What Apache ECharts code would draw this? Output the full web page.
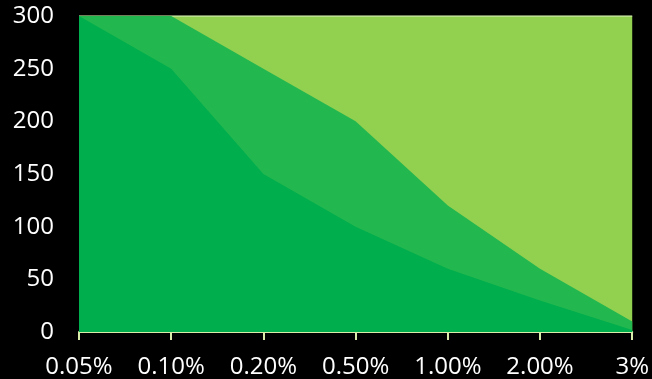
<!DOCTYPE html>
<html>
<head>
<meta charset="utf-8">
<script src="https://cdn.jsdelivr.net/npm/echarts@6/dist/echarts.min.js"></script>
<style>
html,body{margin:0;padding:0;background:#000;}
#c{width:652px;height:379px;}
</style>
</head>
<body>
<div id="c"></div>
<script>
const categories = ['0.05%', '0.10%', '0.20%', '0.50%', '1.00%', '2.00%', '3%'];
const topValues = [300, 300, 300, 300, 300, 300, 300];
const midValues = [300, 300, 250, 200, 120, 60, 10];
const lowValues = [300, 250, 150, 100, 60, 30, 2];
const yTicks = [0, 50, 100, 150, 200, 250, 300];

const chart = echarts.init(document.getElementById('c'), null, {renderer: 'canvas'});
const font = 'Open Sans';
chart.setOption({
  backgroundColor: '#000000',
  animation: false,
  grid: {left: 79, right: 19, top: 16, bottom: 46, containLabel: false},
  xAxis: {
    type: 'category',
    data: categories,
    boundaryGap: false,
    axisLine: {show: true, lineStyle: {color: '#d9ecaa', width: 2}},
    axisTick: {show: true, alignWithLabel: true, length: 8, lineStyle: {color: '#d9ecaa', width: 2}},
    axisLabel: {color: '#ffffff', fontFamily: font, fontSize: 24, margin: 23},
    splitLine: {show: false}
  },
  yAxis: {
    type: 'value',
    min: yTicks[0],
    max: yTicks[yTicks.length - 1],
    interval: 50,
    axisLine: {show: false},
    axisTick: {show: false},
    splitLine: {show: false},
    axisLabel: {color: '#ffffff', fontFamily: font, fontSize: 24, margin: 25}
  },
  series: [
    {
      type: 'line', data: topValues, symbol: 'none',
      lineStyle: {color: '#c8e6a0', width: 1.5},
      areaStyle: {color: '#92d050', opacity: 1},
      z: 1
    },
    {
      type: 'line', data: midValues, symbol: 'none',
      lineStyle: {width: 0},
      areaStyle: {color: '#23b84f', opacity: 1},
      z: 2
    },
    {
      type: 'line', data: lowValues, symbol: 'none',
      lineStyle: {width: 0},
      areaStyle: {color: '#00ae4d', opacity: 1},
      z: 3
    }
  ]
});
</script>
</body>
</html>
